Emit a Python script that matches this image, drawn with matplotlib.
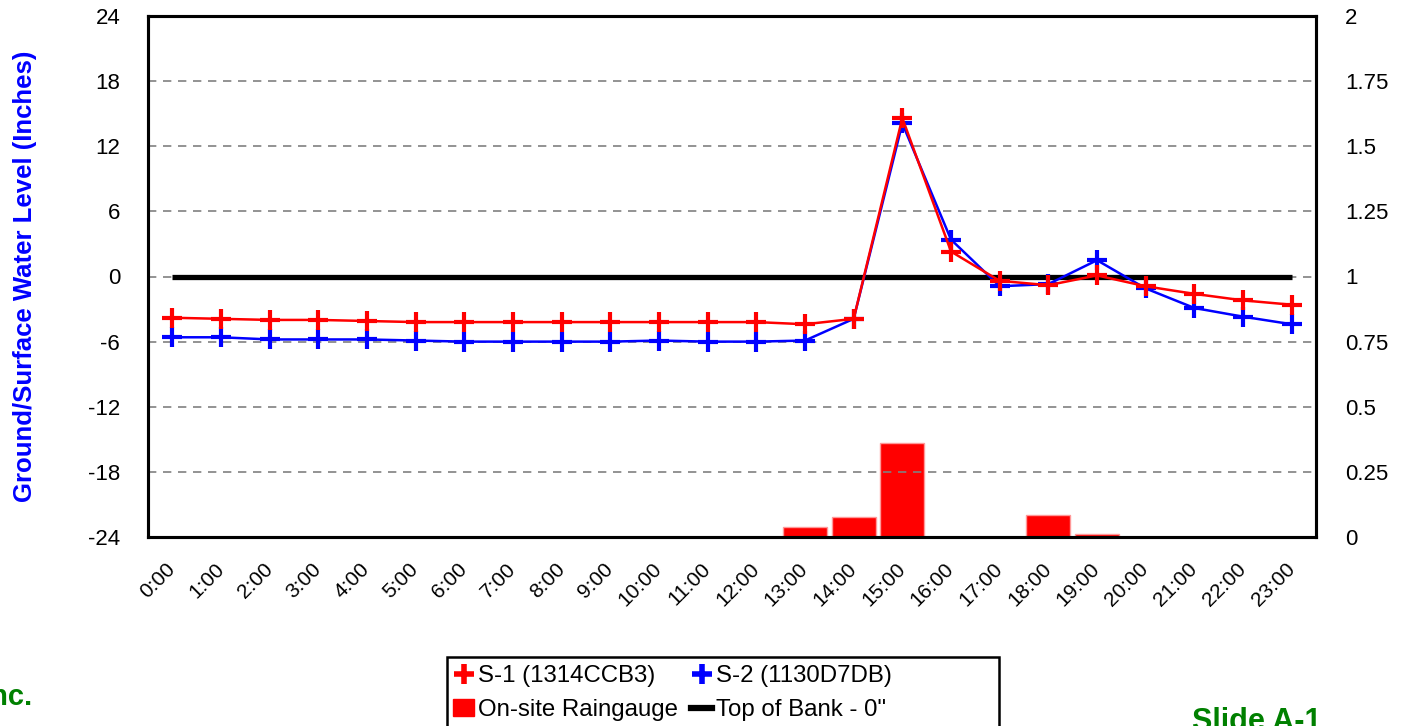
import matplotlib
matplotlib.use("Agg")
import matplotlib.pyplot as plt
from matplotlib.lines import Line2D
from matplotlib.patches import Patch, Rectangle
import numpy as np

plt.rcParams['font.family'] = ['Liberation Sans', 'DejaVu Sans']
plt.rcParams['axes.unicode_minus'] = False

hours = [f"{h}:00" for h in range(24)]
s1 = [-3.8, -3.9, -4.0, -4.0, -4.1, -4.2, -4.2, -4.2, -4.2, -4.2, -4.2, -4.2, -4.2, -4.4,
      -3.9, 14.6, 2.3, -0.4, -0.8, 0.1, -0.9, -1.6, -2.2, -2.6]
s2 = [-5.6, -5.6, -5.8, -5.8, -5.8, -5.9, -6.0, -6.0, -6.0, -6.0, -5.9, -6.0, -6.0, -5.9,
      -3.9, 14.1, 3.4, -0.9, -0.7, 1.5, -1.1, -2.9, -3.7, -4.4]
rain = [0, 0, 0, 0, 0, 0, 0, 0, 0, 0, 0, 0, 0, 0.04,
        0.075, 0.36, 0, 0, 0.085, 0.012, 0, 0, 0, 0]
bank = [0] * 24
left_ticks = [-24, -18, -12, -6, 0, 6, 12, 18, 24]
right_ticks = [0, 0.25, 0.5, 0.75, 1, 1.25, 1.5, 1.75, 2]
right_labels = ["0", "0.25", "0.5", "0.75", "1", "1.25", "1.5", "1.75", "2"]

W, H = 1406, 726
fig = plt.figure(figsize=(W / 100, H / 100), dpi=100)
ax = fig.add_axes([148 / W, 1 - 537 / H, (1316 - 148) / W, (537 - 16) / H])
ax2 = ax.twinx()

x = np.arange(len(hours))

# bars on secondary axis (behind)
ax2.bar(x, rain, width=0.9, color='#ff0000', edgecolor='#ff9999', linewidth=1.0, zorder=2)
ax2.set_ylim(0, 2)
ax2.set_yticks(right_ticks)
ax2.set_yticklabels(right_labels)

ax.set_zorder(ax2.get_zorder() + 1)
ax.patch.set_visible(False)

# grid
for t in left_ticks[1:-1]:
    ax.axhline(t, color='#808080', linestyle=(0, (5, 4)), linewidth=1.2, zorder=1)

ax.plot(x, bank, color='black', linewidth=3.8, zorder=3, solid_capstyle='butt')
ax.plot(x, s2, color='#0000ff', linewidth=1.8, marker='+', markersize=15, mew=3.0, zorder=4)
ax.plot(x, s1, color='#ff0000', linewidth=1.8, marker='+', markersize=15, mew=3.0, zorder=5)

ax.set_xlim(-0.5, len(hours) - 0.5)
ax.set_ylim(-24, 24)
ax.set_yticks(left_ticks)
ax.set_xticks(x)
ax.set_xticklabels(hours, rotation=45, ha='right', va='center', rotation_mode='anchor')

for a in (ax, ax2):
    for sp in a.spines.values():
        sp.set_linewidth(2.2)
        sp.set_color('black')
ax.tick_params(axis='x', length=0, labelsize=15, pad=21)
ax.tick_params(axis='y', length=0, labelsize=16, pad=20)
ax2.tick_params(axis='y', length=0, labelsize=16, pad=21)

ax.set_ylabel("Ground/Surface Water Level (Inches)", color='#0000ff', fontsize=18.5, fontweight='bold')
ax.yaxis.set_label_coords(-0.095, 0.5)

handles = [
    Line2D([], [], color='#ff0000', marker='+', linestyle='none', markersize=15, mew=4),
    Patch(facecolor='#ff0000', edgecolor='#ff0000'),
    Line2D([], [], color='#0000ff', marker='+', linestyle='none', markersize=15, mew=4),
    Line2D([], [], color='black', linewidth=4.5),
]
labels = ["S-1 (1314CCB3)", "On-site Raingauge", "S-2 (1130D7DB)", "Top of Bank - 0\""]
leg = fig.legend(handles, labels, ncol=2, loc='upper left',
                 bbox_to_anchor=(453 / W, 1 - 665 / H), fontsize=17.3, frameon=False,
                 handlelength=0.875, handletextpad=0.17,
                 columnspacing=0.55, borderpad=0, labelspacing=0.5, borderaxespad=0)
fig.add_artist(Rectangle((447 / W, -0.05), (999 - 447) / W, (1 - 657 / H) + 0.05,
                         transform=fig.transFigure, fill=False, edgecolor='black',
                         linewidth=1.8, zorder=10))

fig.text(32 / W, 1 - 705 / H, "Inc.", color='#008000', fontsize=21, fontweight='bold',
         ha='right', va='baseline')
fig.text(1257 / W, 1 - 730 / H, "Slide A-1", color='#008000', fontsize=22, fontweight='bold',
         ha='center', va='baseline')

fig.savefig("out.png", dpi=100)
